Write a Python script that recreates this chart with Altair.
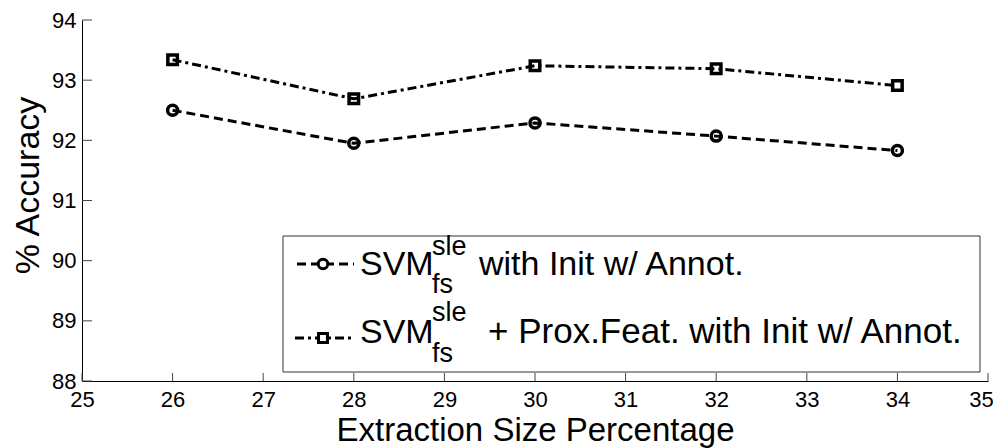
import altair as alt
import pandas as pd

# ---- data ----
extraction_size = [26, 28, 30, 32, 34]
acc_svm = [92.50, 91.95, 92.29, 92.07, 91.83]
acc_svm_prox = [93.34, 92.69, 93.24, 93.19, 92.91]

x_ticks = [25, 26, 27, 28, 29, 30, 31, 32, 33, 34, 35]
y_ticks = [88, 89, 90, 91, 92, 93, 94]

FONT = "Liberation Sans"
W, H = 906, 361

df1 = pd.DataFrame({"x": extraction_size, "y": acc_svm})
df2 = pd.DataFrame({"x": extraction_size, "y": acc_svm_prox})
dfx = pd.DataFrame({"x": x_ticks})
dfy = pd.DataFrame({"y": y_ticks})
one = pd.DataFrame({"a": [0]})

X = alt.X(
    "x:Q",
    title="Extraction Size Percentage",
    scale=alt.Scale(domain=[25, 35], nice=False, zero=False),
    axis=alt.Axis(
        values=x_ticks, ticks=False, grid=False, domainColor="black", domainWidth=1,
        labelFont=FONT, labelFontSize=22, labelColor="black", labelPadding=8,
        labelFlush=False, labelOffset=alt.ExprRef(expr="datum.value == 35 ? -7 : 0"),
        titleFont=FONT, titleFontSize=33, titleFontWeight="normal",
        titleColor="black", titleBaseline="alphabetic", titleY=59, titleX=W / 2,
    ),
)
Y = alt.Y(
    "y:Q",
    title="% Accuracy",
    scale=alt.Scale(domain=[88, 94], nice=False, zero=False),
    axis=alt.Axis(
        values=y_ticks, ticks=False, grid=False, domainColor="black", domainWidth=1,
        labelFont=FONT, labelFontSize=22, labelColor="black", labelPadding=6,
        labelFlush=False, titleFont=FONT, titleFontSize=34, titleFontWeight="normal",
        titleColor="black", titleBaseline="alphabetic", titleX=-44, titleY=165,
        titleAngle=270,
    ),
)

DASH1 = [9, 5]
DASH2 = [9, 4, 3, 4]

line1 = alt.Chart(df1).mark_line(color="black", strokeWidth=3, strokeDash=DASH1).encode(x=X, y=Y)
line2 = alt.Chart(df2).mark_line(color="black", strokeWidth=3, strokeDash=DASH2).encode(x=X, y=Y)
pts1 = alt.Chart(df1).mark_point(shape="circle", filled=False, color="black", strokeWidth=3.5, size=100, opacity=1).encode(x=X, y=Y)
pts2 = alt.Chart(df2).mark_point(shape="square", filled=False, color="black", strokeWidth=3.5, size=90, opacity=1).encode(x=X, y=Y)

xt = alt.Chart(dfx).mark_rule(color="#444444", strokeWidth=1).encode(x=X, y=alt.value(H), y2=alt.value(H - 8))
yt = alt.Chart(dfy).mark_rule(color="#444444", strokeWidth=1).encode(y=Y, x=alt.value(0), x2=alt.value(10))

# ---- legend ----
leg_box = alt.Chart(one).mark_rect(fill="white", stroke="#333333", strokeWidth=1).encode(
    x=alt.value(201), x2=alt.value(898), y=alt.value(216), y2=alt.value(352))
leg_l1 = alt.Chart(one).mark_rule(color="black", strokeWidth=3, strokeDash=DASH1).encode(
    x=alt.value(215), x2=alt.value(272), y=alt.value(244))
leg_l2 = alt.Chart(one).mark_rule(color="black", strokeWidth=3, strokeDash=DASH2).encode(
    x=alt.value(213), x2=alt.value(273), y=alt.value(318))
leg_p1 = alt.Chart(one).mark_point(shape="circle", filled=False, color="black", strokeWidth=3, size=90, opacity=1, fill="white").encode(
    x=alt.value(241), y=alt.value(244))
leg_p2 = alt.Chart(one).mark_point(shape="square", filled=False, color="black", strokeWidth=3, size=80, opacity=1, fill="white").encode(
    x=alt.value(241), y=alt.value(318))


def txt(s, x, y, size):
    return alt.Chart(one).mark_text(
        text=s, font=FONT, fontSize=size, color="black", align="left", baseline="alphabetic"
    ).encode(x=alt.value(x), y=alt.value(y))


legend_texts = [
    txt("SVM", 278, 255, 34), txt("sle", 350, 235, 27), txt("fs", 350, 273, 27),
    txt("with Init w/ Annot.", 397, 255, 34),
    txt("SVM", 278, 323, 34), txt("sle", 350, 301, 27), txt("fs", 350, 342, 27),
    txt("+ Prox.Feat. with Init w/ Annot.", 406, 323, 35),
]

chart = alt.layer(
    line1, line2, pts1, pts2, xt, yt, leg_box, leg_l1, leg_l2, leg_p1, leg_p2, *legend_texts
).properties(
    width=W, height=H,
    autosize=alt.AutoSizeParams(type="none"),
    padding={"left": 74, "top": 12, "right": 5, "bottom": 67},
    background="white",
).configure_view(strokeWidth=0)

chart.save("out.html", embed_options={"renderer": "svg", "actions": False})
